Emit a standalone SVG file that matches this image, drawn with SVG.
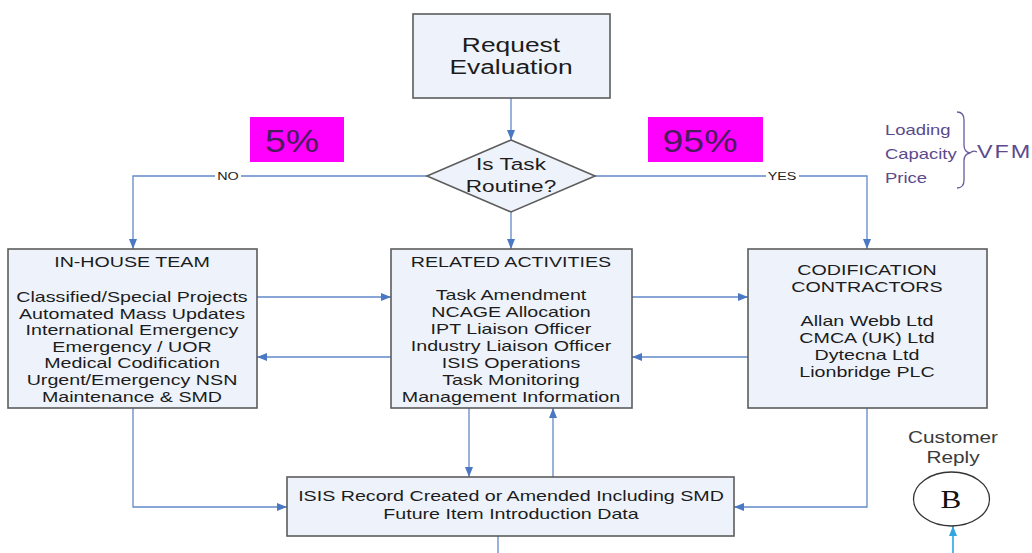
<svg xmlns="http://www.w3.org/2000/svg" width="1032" height="553" viewBox="0 0 1032 553">
  <style>
    .box { fill: #EEF3FB; stroke: #5c5c5c; stroke-width: 1.6; }
    .t { font-family: "Liberation Sans", Arial, sans-serif; fill: #1c1c1c; text-anchor: middle; }
    .body { font-size: 15px; }
    .big { font-size: 20px; }
    .dia { font-size: 17px; }
    .lbl { font-family: "Liberation Sans", Arial, sans-serif; font-size: 11.5px; fill: #222; text-anchor: middle; }
    .pct { font-family: "Liberation Sans", Arial, sans-serif; font-size: 32px; fill: #4a1c5e; text-anchor: middle; }
    .vfm { font-family: "Liberation Sans", Arial, sans-serif; fill: #5B4A8C; }
    .cust { font-family: "Liberation Sans", Arial, sans-serif; font-size: 16px; fill: #3a3a3a; text-anchor: middle; }
    .conn { fill: none; stroke: #6189C7; stroke-width: 1.3; }
    .conn-b { fill: none; stroke: #2EA6E0; stroke-width: 1.6; }
  </style>
  <defs>
    <marker id="arr" markerUnits="userSpaceOnUse" markerWidth="10" markerHeight="10" viewBox="0 0 10 10" refX="10" refY="5" orient="auto">
      <path d="M0,1 L10,5 L0,9 Z" fill="#4A78C2"/>
    </marker>
    <marker id="arrB" markerUnits="userSpaceOnUse" markerWidth="10" markerHeight="10" viewBox="0 0 10 10" refX="10" refY="5" orient="auto">
      <path d="M0,1 L10,5 L0,9 Z" fill="#2EA6E0"/>
    </marker>
  </defs>

  <rect width="1032" height="553" fill="#ffffff"/>

  <!-- connectors -->
  <g id="connectors">
    <path class="conn" d="M511,98 L511,140" marker-end="url(#arr)"/>
    <path class="conn" d="M427,176 L133,176 L133,249" marker-end="url(#arr)"/>
    <path class="conn" d="M595,176 L867,176 L867,249" marker-end="url(#arr)"/>
    <path class="conn" d="M511,212 L511,249" marker-end="url(#arr)"/>
    <path class="conn" d="M257,297 L391,297" marker-end="url(#arr)"/>
    <path class="conn" d="M391,357 L257,357" marker-end="url(#arr)"/>
    <path class="conn" d="M632,297 L748,297" marker-end="url(#arr)"/>
    <path class="conn" d="M748,357 L632,357" marker-end="url(#arr)"/>
    <path class="conn" d="M133,408 L133,507 L287,507" marker-end="url(#arr)"/>
    <path class="conn" d="M469,408 L469,477" marker-end="url(#arr)"/>
    <path class="conn" d="M553,477 L553,408" marker-end="url(#arr)"/>
    <path class="conn" d="M867,408 L867,507 L734,507" marker-end="url(#arr)"/>
    <path class="conn" d="M498,536 L498,553"/>
    <path class="conn-b" d="M953,553 L953,526" marker-end="url(#arrB)"/>
    <!-- branch labels -->
    <rect x="215" y="169" width="26" height="14" fill="#ffffff"/>
    <text class="lbl" transform="translate(228,0) scale(1.25,1)" x="0" y="180">NO</text>
    <rect x="766" y="169" width="33" height="14" fill="#ffffff"/>
    <text class="lbl" transform="translate(782,0) scale(1.25,1)" x="0" y="180">YES</text>
  </g>

  <!-- request evaluation -->
  <g id="request-evaluation">
    <rect class="box" x="413" y="14" width="197" height="84"/>
    <g transform="translate(511,0) scale(1.32,1)">
      <text class="t big" x="0" y="52">Request</text>
      <text class="t big" x="0" y="74">Evaluation</text>
    </g>
  </g>

  <!-- decision -->
  <g id="task-routine">
    <polygon class="box" points="511,140 595,176 511,212 427,176"/>
    <g transform="translate(511,0) scale(1.33,1)">
      <text class="t dia" x="0" y="170">Is Task</text>
      <text class="t dia" x="0" y="192">Routine?</text>
    </g>
  </g>

  <!-- percentage tags -->
  <g id="pct-5">
    <rect x="250" y="117" width="94" height="45" fill="#FF00FF"/>
    <text class="pct" transform="translate(292,0) scale(1.17,1)" x="0" y="152">5%</text>
  </g>
  <g id="pct-95">
    <rect x="648" y="117" width="115" height="45" fill="#FF00FF"/>
    <text class="pct" transform="translate(700,0) scale(1.17,1)" x="0" y="152">95%</text>
  </g>

  <!-- value for money factors -->
  <g id="vfm">
    <g transform="translate(885,0) scale(1.23,1)">
      <text class="vfm" font-size="15" x="0" y="135">Loading</text>
      <text class="vfm" font-size="15" x="0" y="159">Capacity</text>
      <text class="vfm" font-size="15" x="0" y="183">Price</text>
    </g>
    <path d="M957,112 Q964,112 964,120 L964,145 Q964,152 970,153 Q964,154 964,161 L964,180 Q964,188 957,188" fill="none" stroke="#6B5A9A" stroke-width="1.3"/>
    <path d="M970,153 Q973,150 977,152" fill="none" stroke="#6B5A9A" stroke-width="1.3"/>
    <g transform="translate(977,0) scale(1.3,1)">
      <text class="vfm" font-size="18" letter-spacing="1.5" x="0" y="158">VFM</text>
    </g>
  </g>

  <!-- in-house team -->
  <g id="in-house-team">
    <rect class="box" x="8" y="249" width="249" height="159"/>
    <g transform="translate(132,0) scale(1.31,1)">
      <text class="t body" x="0" y="267">IN-HOUSE TEAM</text>
      <text class="t body" x="0" y="302">Classified/Special Projects</text>
      <text class="t body" x="0" y="319">Automated Mass Updates</text>
      <text class="t body" x="0" y="335">International Emergency</text>
      <text class="t body" x="0" y="352">Emergency / UOR</text>
      <text class="t body" x="0" y="368">Medical Codification</text>
      <text class="t body" x="0" y="385">Urgent/Emergency NSN</text>
      <text class="t body" x="0" y="402">Maintenance &amp; SMD</text>
    </g>
  </g>

  <!-- related activities -->
  <g id="related-activities">
    <rect class="box" x="391" y="249" width="241" height="159"/>
    <g transform="translate(511,0) scale(1.31,1)">
      <text class="t body" x="0" y="267">RELATED ACTIVITIES</text>
      <text class="t body" x="0" y="300">Task Amendment</text>
      <text class="t body" x="0" y="317">NCAGE Allocation</text>
      <text class="t body" x="0" y="334">IPT Liaison Officer</text>
      <text class="t body" x="0" y="351">Industry Liaison Officer</text>
      <text class="t body" x="0" y="368">ISIS Operations</text>
      <text class="t body" x="0" y="385">Task Monitoring</text>
      <text class="t body" x="0" y="402">Management Information</text>
    </g>
  </g>

  <!-- codification contractors -->
  <g id="codification-contractors">
    <rect class="box" x="748" y="249" width="239" height="159"/>
    <g transform="translate(867,0) scale(1.31,1)">
      <text class="t body" x="0" y="275">CODIFICATION</text>
      <text class="t body" x="0" y="292">CONTRACTORS</text>
      <text class="t body" x="0" y="326">Allan Webb Ltd</text>
      <text class="t body" x="0" y="343">CMCA (UK) Ltd</text>
      <text class="t body" x="0" y="360">Dytecna Ltd</text>
      <text class="t body" x="0" y="377">Lionbridge PLC</text>
    </g>
  </g>

  <!-- isis record -->
  <g id="isis-record">
    <rect class="box" x="287" y="477" width="447" height="59"/>
    <g transform="translate(511,0) scale(1.31,1)">
      <text class="t body" x="0" y="501">ISIS Record Created or Amended Including SMD</text>
      <text class="t body" x="0" y="519">Future Item Introduction Data</text>
    </g>
  </g>

  <!-- customer reply connector -->
  <g id="customer-reply">
    <g transform="translate(953,0) scale(1.3,1)">
      <text class="cust" x="0" y="443">Customer</text>
      <text class="cust" x="0" y="463">Reply</text>
    </g>
    <ellipse cx="951.5" cy="499" rx="38" ry="27" fill="#ffffff" stroke="#333" stroke-width="1.3"/>
    <text transform="translate(951,0) scale(1.2,1)" x="0" y="508" font-family="'Liberation Serif', 'Times New Roman', serif" font-size="26" text-anchor="middle" fill="#111">B</text>
  </g>
</svg>
